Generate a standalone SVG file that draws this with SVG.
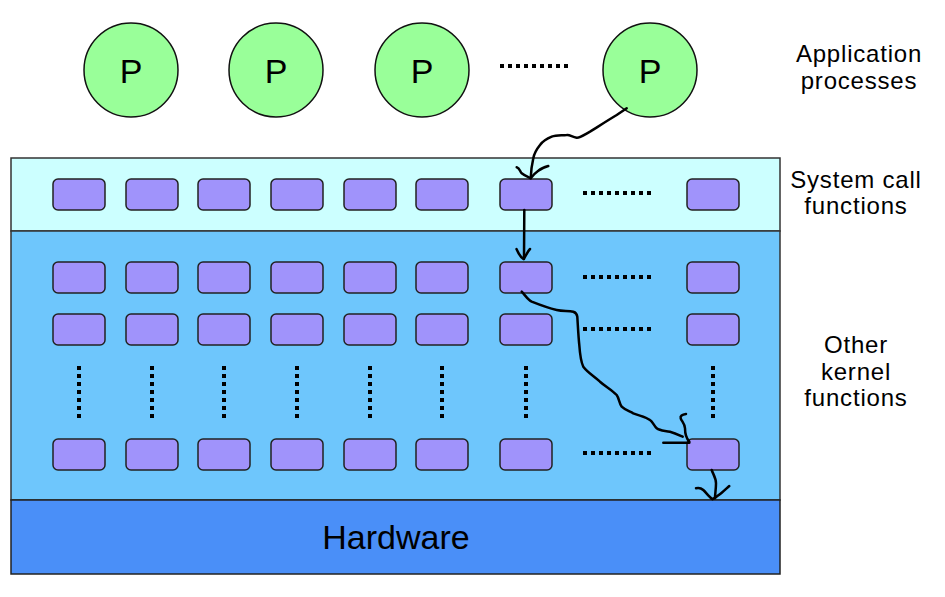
<svg xmlns="http://www.w3.org/2000/svg" width="945" height="597" viewBox="0 0 945 597">
<style>
.lbl{font-family:"Liberation Sans",Arial,sans-serif;font-size:24px;letter-spacing:0.8px;fill:#000;text-anchor:middle}
.p{font-family:"Liberation Sans",Arial,sans-serif;font-size:34px;fill:#000;text-anchor:middle}
.proc{fill:#99FF99;stroke:#111;stroke-width:1.5}
.fn{fill:#A093FB;stroke:#222;stroke-width:1.5}
.dots{stroke:#000;stroke-width:4;stroke-dasharray:4 4;fill:none}
.wire{fill:none;stroke:#000;stroke-width:2.5;stroke-linecap:round;stroke-linejoin:round}
</style>
<defs>
<rect id="b" class="fn" width="52" height="31" rx="5"/>
</defs>
<rect width="945" height="597" fill="#fff"/>
<g id="bands">
<rect x="11" y="158" width="769" height="73" fill="#CCFFFF" stroke="#333" stroke-width="1.5"/>
<rect x="11" y="231" width="769" height="269" fill="#6EC6FC" stroke="#333" stroke-width="1.5"/>
<rect x="11" y="500" width="769" height="74" fill="#4A8FF8" stroke="#222" stroke-width="1.5"/>
<text class="p" x="396" y="549" font-size="29.6">Hardware</text>
</g>
<g id="processes">
<g id="p1"><circle class="proc" cx="131" cy="70" r="47"/><text class="p" x="131" y="83">P</text></g>
<g id="p2"><circle class="proc" cx="276" cy="70" r="47"/><text class="p" x="276" y="83">P</text></g>
<g id="p3"><circle class="proc" cx="422" cy="70" r="47"/><text class="p" x="422" y="83">P</text></g>
<g id="p4"><circle class="proc" cx="650" cy="70" r="47"/><text class="p" x="650" y="83">P</text></g>
<line class="dots" x1="500" y1="66" x2="570" y2="66"/>
</g>
<g id="labels">
<text class="lbl" x="859" y="62">Application</text>
<text class="lbl" x="859" y="89">processes</text>
<text class="lbl" x="856" y="188">System call</text>
<text class="lbl" x="856" y="214">functions</text>
<text class="lbl" x="856" y="353">Other</text>
<text class="lbl" x="856" y="380">kernel</text>
<text class="lbl" x="856" y="406">functions</text>
</g>
<g id="syscalls">
<use href="#b" x="53" y="179"/><use href="#b" x="126" y="179"/><use href="#b" x="198" y="179"/><use href="#b" x="271" y="179"/><use href="#b" x="344" y="179"/><use href="#b" x="416" y="179"/><use href="#b" x="500" y="179"/><use href="#b" x="687" y="179"/>
<line class="dots" x1="583" y1="193" x2="653" y2="193"/>
</g>
<g id="kernel">
<use href="#b" x="53" y="262"/><use href="#b" x="126" y="262"/><use href="#b" x="198" y="262"/><use href="#b" x="271" y="262"/><use href="#b" x="344" y="262"/><use href="#b" x="416" y="262"/><use href="#b" x="500" y="262"/><use href="#b" x="687" y="262"/>
<line class="dots" x1="583" y1="277" x2="653" y2="277"/>
<use href="#b" x="53" y="314"/><use href="#b" x="126" y="314"/><use href="#b" x="198" y="314"/><use href="#b" x="271" y="314"/><use href="#b" x="344" y="314"/><use href="#b" x="416" y="314"/><use href="#b" x="500" y="314"/><use href="#b" x="687" y="314"/>
<line class="dots" x1="583" y1="329" x2="653" y2="329"/>
<use href="#b" x="53" y="439"/><use href="#b" x="126" y="439"/><use href="#b" x="198" y="439"/><use href="#b" x="271" y="439"/><use href="#b" x="344" y="439"/><use href="#b" x="416" y="439"/><use href="#b" x="500" y="439"/><use href="#b" x="687" y="439"/>
<line class="dots" x1="583" y1="453" x2="653" y2="453"/>
<line class="dots" x1="79" y1="366" x2="79" y2="418"/>
<line class="dots" x1="152" y1="366" x2="152" y2="418"/>
<line class="dots" x1="224" y1="366" x2="224" y2="418"/>
<line class="dots" x1="297" y1="366" x2="297" y2="418"/>
<line class="dots" x1="370" y1="366" x2="370" y2="418"/>
<line class="dots" x1="442" y1="366" x2="442" y2="418"/>
<line class="dots" x1="526" y1="366" x2="526" y2="418"/>
<line class="dots" x1="713" y1="366" x2="713" y2="418"/>
</g>
<g id="connectors">
<path class="wire" d="M626.7,108.3 L616.7,115 C605,122 596,128 590,131.7 C584,135 580,138 576.7,137.7 C572,137 570,134.5 566.7,135 C560,135.5 556,135 551.7,136.7 C546,139 543,141 540,145 C536,150 534,154 533.3,158.3 C531.5,166 531,172 530.7,178.3"/>
<path class="wire" d="M516.7,167.3 C520,168 520,172 521.7,173.3 C525,176 528,177 530.7,178.3 C533,175 535,173 538.3,170.7 C541,168.5 545,167 548.3,166"/>
<path class="wire" d="M524.3,210 L524,259"/>
<path class="wire" d="M516.5,249 C518,252 519,256 523.5,259 C526,256 527,252 530,249"/>
<path class="wire" d="M521.7,291.7 C525,295 528,300 531.7,301.7 C540,305 548,308 556.7,310 C563,311.5 568,310.5 573.3,311.7 C576,312.5 577,314 577.3,316.7 C578,328 578.5,338 579.3,345 C580,355 581,362 583.3,366.7 C588,373 594,376 600,381.7 C606,387 612,390 616.7,395 C619,398 619,403 621.7,406.7 C625,410 629,411 633.3,413.3 C640,416 645,416.5 650,420 C653,422 654,426 656.7,428.3 C660,431 665,430.5 670,431.7 C675,433 679,435 682.7,436.7"/>
<path class="wire" d="M663.3,442.7 L689.3,442.7"/>
<path class="wire" d="M686,414 C682,414.5 680,416 680.7,418.3 C681.5,421 685,424 685,428.3 C685,433 686,438 689.3,441.7"/>
<path class="wire" d="M711.7,470 C713,474 716,478 716,483.3 C716,489 715,494 715,498.3"/>
<path class="wire" d="M696,488.3 C699,487.5 701,488 703.3,490 C706,492.5 709,497 712.5,499.3 C716,497 719,495 722,492.5 C725,490 727,488 729.3,486"/>
</g>
</svg>
